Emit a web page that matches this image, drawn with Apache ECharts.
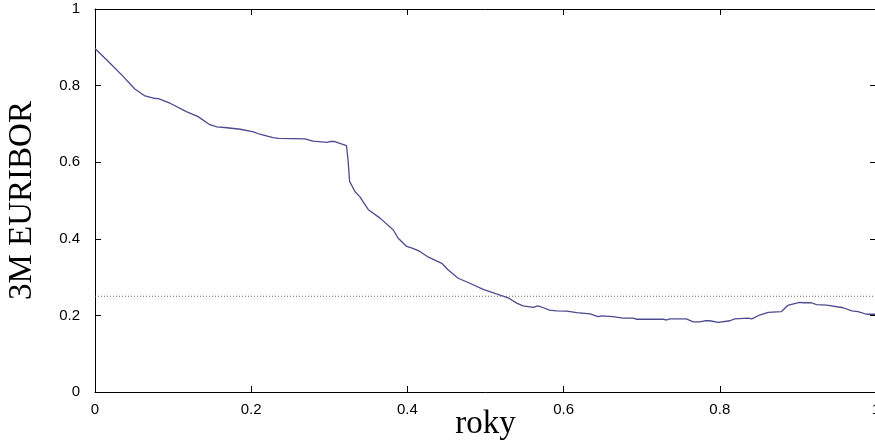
<!DOCTYPE html>
<html>
<head>
<meta charset="utf-8">
<script src="https://cdn.jsdelivr.net/npm/echarts@6/dist/echarts.min.js"></script>
<style>html,body{margin:0;padding:0;background:#fff}#c{width:875px;height:442px}</style>
</head>
<body>
<div id="c"></div>
<script>
const years = [0.000,0.002,0.019,0.036,0.051,0.064,0.075,0.081,0.096,0.117,0.132,0.147,0.156,0.169,0.186,0.203,0.211,0.228,0.235,0.269,0.279,0.297,0.301,0.307,0.322,0.324,0.326,0.333,0.339,0.350,0.365,0.382,0.388,0.399,0.407,0.416,0.427,0.444,0.452,0.465,0.480,0.497,0.514,0.529,0.540,0.548,0.561,0.567,0.574,0.582,0.591,0.604,0.617,0.634,0.644,0.649,0.663,0.676,0.689,0.693,0.727,0.732,0.736,0.757,0.766,0.774,0.781,0.787,0.798,0.813,0.819,0.836,0.841,0.851,0.862,0.879,0.887,0.902,0.907,0.917,0.924,0.937,0.958,0.969,0.977,0.988,1.000];
const euribor = [0.897,0.894,0.859,0.824,0.791,0.773,0.767,0.766,0.754,0.732,0.719,0.698,0.692,0.690,0.686,0.679,0.673,0.664,0.662,0.661,0.655,0.652,0.654,0.654,0.643,0.606,0.550,0.523,0.510,0.476,0.454,0.423,0.402,0.380,0.375,0.367,0.352,0.336,0.319,0.297,0.284,0.268,0.256,0.246,0.232,0.225,0.221,0.225,0.220,0.214,0.212,0.211,0.207,0.204,0.197,0.199,0.197,0.193,0.193,0.190,0.190,0.188,0.191,0.191,0.183,0.183,0.186,0.186,0.182,0.186,0.191,0.193,0.191,0.201,0.208,0.210,0.226,0.234,0.233,0.233,0.228,0.227,0.220,0.212,0.210,0.203,0.203];
const threshold = 0.25;
const xTicks = [0, 0.2, 0.4, 0.6, 0.8, 1];
const yTicks = [0, 0.2, 0.4, 0.6, 0.8, 1];
const xTitle = 'roky';
const yTitle = '3M EURIBOR';

const chart = echarts.init(document.getElementById('c'), null, {renderer: 'canvas'});
const lbl = {color: '#000', fontFamily: 'Liberation Sans, Arial, sans-serif', fontSize: 15};
const line = {show: true, onZero: false, lineStyle: {color: '#000', width: 1}};
const tick = {show: true, inside: true, length: 6, lineStyle: {color: '#000', width: 1}};
chart.setOption({
  animation: false,
  backgroundColor: '#fff',
  grid: {left: 95, right: -1, top: 9, bottom: 50, containLabel: false, outerBoundsMode: 'none'},
  xAxis: [{
    type: 'value', min: 0, max: 1, interval: 0.2, position: 'bottom',
    axisLine: line, axisTick: tick, splitLine: {show: false},
    axisLabel: Object.assign({margin: 10, formatter: v => xTicks.includes(+v.toFixed(2)) ? String(+v.toFixed(2)) : ''}, lbl),
    name: xTitle, nameLocation: 'middle', nameGap: 16, nameMoveOverlap: false,
    nameTextStyle: {fontFamily: 'Liberation Serif, Times New Roman, serif', fontSize: 33, color: '#000'}
  }, {
    type: 'value', min: 0, max: 1, interval: 0.2, position: 'top',
    axisLine: line, axisTick: tick, splitLine: {show: false}, axisLabel: {show: false}
  }],
  yAxis: [{
    type: 'value', min: 0, max: 1, interval: 0.2, position: 'left',
    axisLine: line, axisTick: tick, splitLine: {show: false},
    axisLabel: Object.assign({margin: 15, formatter: v => yTicks.includes(+v.toFixed(2)) ? String(+v.toFixed(2)) : ''}, lbl),
    name: yTitle, nameLocation: 'middle', nameGap: 56, nameRotate: 90, nameMoveOverlap: false,
    nameTextStyle: {fontFamily: 'Liberation Serif, Times New Roman, serif', fontSize: 33, color: '#000'}
  }, {
    type: 'value', min: 0, max: 1, interval: 0.2, position: 'right',
    axisLine: line, axisTick: tick, splitLine: {show: false}, axisLabel: {show: false}
  }],
  series: [{
    type: 'line', xAxisIndex: 0, yAxisIndex: 0,
    data: years.map((x, i) => [x, euribor[i]]),
    showSymbol: false, symbol: 'none',
    lineStyle: {color: '#4b4b8f', width: 1.3}
  }, {
    type: 'line', xAxisIndex: 0, yAxisIndex: 0,
    data: [[0, threshold], [1, threshold]],
    showSymbol: false, symbol: 'none',
    lineStyle: {color: '#666', width: 1, type: [1, 2]}
  }]
});
</script>
</body>
</html>
